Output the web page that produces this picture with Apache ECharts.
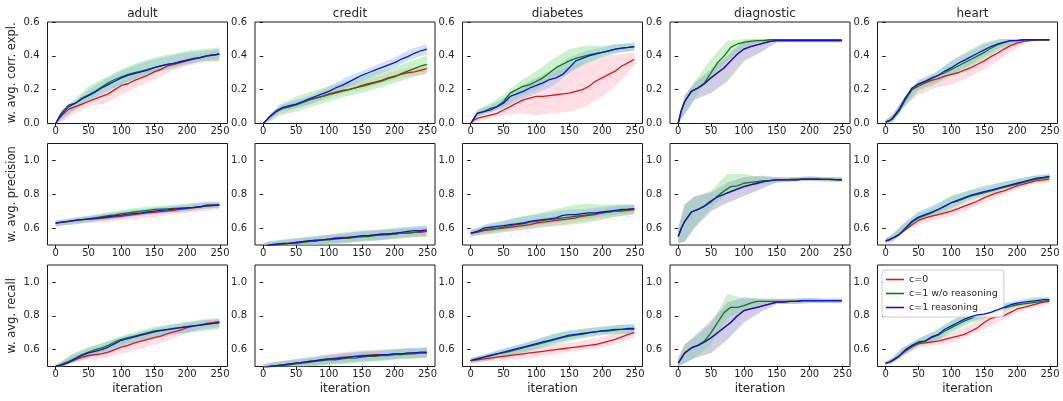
<!DOCTYPE html>
<html><head><meta charset="utf-8">
<script src="https://cdn.jsdelivr.net/npm/echarts@6/dist/echarts.min.js"></script>
<style>html,body{margin:0;padding:0;background:#fff}#c{width:1063px;height:401px}</style>
</head><body><div id="c"></div>
<script>
// iteration sample points for the mean curves and for the band edges
const X  = [0,5,10,20,30,40,50,60,70,80,90,100,110,120,130,140,150,160,170,180,190,200,210,220,230,240,249];
const BX = [0,10,25,50,75,100,125,150,175,200,225,249];
const datasets = ['adult','credit','diabetes','diagnostic','heart'];
const metricKeys = ['corr','prec','rec'];
const metricLabels = ['w. avg. corr. expl.','w. avg. precision','w. avg. recall'];
const seriesNames = ['c=0','c=1 w/o reasoning','c=1 reasoning'];
const xTicks = [0,50,100,150,200,250];
const yTicksTop = [0.0,0.2,0.4,0.6];
const yTicksLow = [0.6,0.8,1.0];

// ---------- row 1: corr. expl. ----------
const adult_corr_red   = [0,0.03,0.05,0.085,0.10,0.115,0.13,0.145,0.16,0.175,0.20,0.225,0.235,0.255,0.27,0.285,0.305,0.32,0.34,0.35,0.36,0.37,0.38,0.39,0.40,0.405,0.41];
const adult_corr_green = [0,0.04,0.07,0.11,0.12,0.15,0.17,0.19,0.215,0.24,0.26,0.275,0.29,0.30,0.31,0.32,0.33,0.34,0.35,0.355,0.365,0.375,0.38,0.39,0.40,0.405,0.41];
const adult_corr_blue  = [0,0.03,0.06,0.10,0.12,0.145,0.165,0.185,0.21,0.23,0.25,0.27,0.285,0.295,0.305,0.315,0.33,0.34,0.35,0.355,0.365,0.375,0.385,0.39,0.40,0.405,0.41];
const adult_corr_red_lo   = [0,0.01,0.05,0.10,0.12,0.17,0.22,0.26,0.31,0.34,0.36,0.37];
const adult_corr_red_hi   = [0,0.05,0.10,0.15,0.19,0.25,0.29,0.33,0.36,0.39,0.41,0.43];
const adult_corr_green_lo = [0,0.03,0.07,0.13,0.19,0.23,0.27,0.30,0.32,0.35,0.37,0.37];
const adult_corr_green_hi = [0,0.07,0.13,0.22,0.27,0.32,0.36,0.39,0.41,0.43,0.44,0.45];
const adult_corr_blue_lo  = [0,0.02,0.07,0.13,0.18,0.23,0.27,0.30,0.33,0.35,0.37,0.38];
const adult_corr_blue_hi  = [0,0.06,0.12,0.20,0.26,0.31,0.35,0.38,0.40,0.42,0.43,0.44];

const credit_corr_red   = [0,0.02,0.04,0.07,0.09,0.10,0.11,0.125,0.14,0.15,0.16,0.175,0.185,0.195,0.20,0.21,0.225,0.235,0.245,0.255,0.27,0.28,0.29,0.30,0.305,0.315,0.325];
const credit_corr_green = [0,0.02,0.04,0.07,0.09,0.10,0.11,0.125,0.14,0.15,0.16,0.17,0.18,0.19,0.20,0.21,0.22,0.23,0.24,0.25,0.265,0.275,0.295,0.31,0.325,0.34,0.35];
const credit_corr_blue  = [0,0.02,0.04,0.075,0.095,0.105,0.115,0.13,0.145,0.16,0.175,0.19,0.21,0.225,0.245,0.265,0.285,0.30,0.315,0.33,0.345,0.36,0.38,0.395,0.415,0.43,0.44];
const credit_corr_red_lo   = [0,0.02,0.05,0.09,0.12,0.15,0.18,0.20,0.23,0.26,0.28,0.29];
const credit_corr_red_hi   = [0,0.05,0.10,0.13,0.16,0.20,0.23,0.25,0.28,0.31,0.33,0.35];
const credit_corr_green_lo = [0,0.01,0.05,0.07,0.10,0.13,0.16,0.18,0.21,0.24,0.27,0.30];
const credit_corr_green_hi = [0,0.05,0.11,0.16,0.19,0.22,0.25,0.28,0.31,0.33,0.37,0.40];
const credit_corr_blue_lo  = [0,0.02,0.07,0.09,0.12,0.16,0.21,0.25,0.29,0.33,0.38,0.41];
const credit_corr_blue_hi  = [0,0.05,0.11,0.14,0.17,0.22,0.27,0.31,0.35,0.39,0.44,0.47];

const diabetes_corr_red   = [0,0.02,0.03,0.04,0.05,0.06,0.08,0.10,0.12,0.14,0.15,0.16,0.16,0.165,0.17,0.175,0.18,0.19,0.20,0.22,0.25,0.27,0.29,0.31,0.34,0.36,0.38];
const diabetes_corr_green = [0,0.03,0.06,0.07,0.09,0.10,0.13,0.18,0.20,0.22,0.23,0.25,0.27,0.30,0.33,0.35,0.37,0.385,0.395,0.405,0.415,0.42,0.43,0.44,0.445,0.45,0.455];
const diabetes_corr_blue  = [0,0.03,0.06,0.07,0.08,0.10,0.12,0.16,0.175,0.19,0.21,0.225,0.24,0.26,0.27,0.29,0.33,0.37,0.385,0.40,0.41,0.42,0.43,0.44,0.445,0.45,0.455];
const diabetes_corr_red_lo   = [0,0.01,0.03,0.05,0.06,0.05,0.06,0.07,0.10,0.16,0.24,0.34];
const diabetes_corr_red_hi   = [0,0.04,0.07,0.12,0.20,0.26,0.30,0.34,0.37,0.40,0.41,0.42];
const diabetes_corr_green_lo = [0,0.04,0.06,0.10,0.16,0.20,0.26,0.30,0.35,0.39,0.42,0.43];
const diabetes_corr_green_hi = [0,0.08,0.11,0.17,0.25,0.31,0.38,0.44,0.46,0.46,0.47,0.48];
const diabetes_corr_blue_lo  = [0,0.04,0.06,0.09,0.14,0.18,0.22,0.30,0.36,0.40,0.42,0.43];
const diabetes_corr_blue_hi  = [0,0.08,0.10,0.15,0.22,0.27,0.32,0.39,0.43,0.45,0.47,0.47];

const diagnostic_corr_red   = [0,0.08,0.13,0.19,0.21,0.235,0.27,0.30,0.33,0.37,0.41,0.44,0.455,0.465,0.475,0.485,0.49,0.49,0.49,0.49,0.49,0.49,0.49,0.49,0.49,0.49,0.49];
const diagnostic_corr_green = [0,0.08,0.13,0.19,0.21,0.24,0.30,0.36,0.40,0.45,0.47,0.48,0.485,0.49,0.49,0.495,0.495,0.495,0.495,0.495,0.495,0.495,0.495,0.495,0.495,0.495,0.495];
const diagnostic_corr_blue  = [0,0.08,0.13,0.19,0.21,0.235,0.27,0.30,0.33,0.37,0.41,0.44,0.455,0.465,0.475,0.485,0.49,0.49,0.49,0.49,0.49,0.49,0.49,0.49,0.49,0.49,0.49];
const diagnostic_corr_red_lo   = [0,0.06,0.14,0.18,0.25,0.37,0.42,0.48,0.48,0.48,0.48,0.48];
const diagnostic_corr_red_hi   = [0,0.17,0.24,0.32,0.40,0.49,0.50,0.50,0.50,0.50,0.50,0.50];
const diagnostic_corr_green_lo = [0,0.05,0.15,0.28,0.37,0.45,0.48,0.485,0.485,0.485,0.485,0.485];
const diagnostic_corr_green_hi = [0,0.16,0.25,0.38,0.49,0.50,0.50,0.50,0.50,0.50,0.50,0.50];
const diagnostic_corr_blue_lo  = [0,0.06,0.14,0.18,0.25,0.37,0.42,0.48,0.48,0.48,0.48,0.48];
const diagnostic_corr_blue_hi  = [0,0.17,0.24,0.32,0.40,0.49,0.50,0.50,0.50,0.50,0.50,0.50];

const heart_corr_red   = [0.01,0.015,0.03,0.08,0.15,0.20,0.22,0.24,0.255,0.265,0.28,0.29,0.30,0.315,0.33,0.35,0.37,0.395,0.415,0.44,0.46,0.475,0.485,0.49,0.495,0.495,0.495];
const heart_corr_green = [0.01,0.015,0.025,0.07,0.14,0.20,0.23,0.245,0.265,0.285,0.30,0.32,0.34,0.36,0.38,0.40,0.42,0.445,0.465,0.48,0.49,0.49,0.495,0.495,0.495,0.495,0.495];
const heart_corr_blue  = [0.01,0.015,0.03,0.08,0.15,0.21,0.235,0.25,0.27,0.285,0.31,0.33,0.355,0.375,0.395,0.415,0.435,0.455,0.47,0.48,0.49,0.49,0.495,0.495,0.495,0.495,0.495];
const heart_corr_red_lo   = [0,0.01,0.09,0.17,0.21,0.23,0.27,0.32,0.38,0.45,0.49,0.49];
const heart_corr_red_hi   = [0.02,0.05,0.13,0.24,0.27,0.32,0.36,0.42,0.47,0.50,0.50,0.50];
const heart_corr_green_lo = [0,0.0,0.08,0.19,0.23,0.28,0.32,0.38,0.44,0.48,0.49,0.49];
const heart_corr_green_hi = [0.02,0.05,0.13,0.25,0.30,0.37,0.43,0.48,0.50,0.50,0.50,0.50];
const heart_corr_blue_lo  = [0,0.01,0.09,0.20,0.24,0.29,0.34,0.40,0.45,0.48,0.49,0.49];
const heart_corr_blue_hi  = [0.02,0.05,0.14,0.26,0.30,0.37,0.42,0.47,0.50,0.50,0.50,0.50];

// ---------- row 2: precision ----------
const adult_prec_red   = [0.63,0.632,0.635,0.64,0.645,0.65,0.652,0.655,0.658,0.662,0.666,0.67,0.675,0.68,0.685,0.69,0.693,0.697,0.70,0.705,0.71,0.715,0.72,0.725,0.73,0.733,0.737];
const adult_prec_green = [0.63,0.632,0.635,0.64,0.645,0.65,0.655,0.66,0.667,0.673,0.678,0.685,0.69,0.695,0.70,0.705,0.71,0.712,0.714,0.716,0.718,0.72,0.723,0.727,0.732,0.735,0.737];
const adult_prec_blue  = [0.63,0.632,0.635,0.64,0.645,0.65,0.655,0.658,0.662,0.667,0.672,0.677,0.682,0.686,0.69,0.695,0.70,0.705,0.708,0.712,0.716,0.72,0.722,0.726,0.735,0.735,0.737];
const adult_prec_red_lo   = [0.61,0.615,0.62,0.63,0.635,0.645,0.655,0.665,0.68,0.69,0.70,0.71];
const adult_prec_red_hi   = [0.645,0.65,0.66,0.67,0.68,0.69,0.70,0.71,0.72,0.73,0.745,0.75];
const adult_prec_green_lo = [0.61,0.615,0.62,0.635,0.65,0.665,0.675,0.685,0.695,0.70,0.715,0.72];
const adult_prec_green_hi = [0.645,0.65,0.66,0.675,0.69,0.705,0.72,0.73,0.735,0.745,0.75,0.755];
const adult_prec_blue_lo  = [0.61,0.615,0.625,0.635,0.645,0.655,0.67,0.68,0.69,0.70,0.715,0.72];
const adult_prec_blue_hi  = [0.645,0.65,0.655,0.67,0.685,0.70,0.71,0.72,0.73,0.74,0.755,0.755];

const credit_prec_red   = [0.49,0.495,0.50,0.505,0.505,0.51,0.515,0.52,0.525,0.53,0.53,0.535,0.54,0.545,0.545,0.55,0.55,0.555,0.56,0.56,0.565,0.565,0.57,0.57,0.575,0.575,0.58];
const credit_prec_green = [0.49,0.495,0.50,0.50,0.505,0.51,0.51,0.515,0.52,0.525,0.53,0.53,0.535,0.54,0.54,0.545,0.55,0.55,0.555,0.56,0.56,0.565,0.57,0.57,0.575,0.58,0.58];
const credit_prec_blue  = [0.49,0.495,0.50,0.505,0.51,0.51,0.515,0.52,0.525,0.525,0.53,0.535,0.54,0.54,0.545,0.55,0.555,0.555,0.56,0.565,0.565,0.57,0.575,0.58,0.585,0.585,0.59];
const credit_prec_red_lo   = [0.47,0.48,0.485,0.49,0.50,0.505,0.515,0.52,0.53,0.535,0.545,0.55];
const credit_prec_red_hi   = [0.51,0.52,0.525,0.535,0.545,0.56,0.57,0.58,0.59,0.595,0.60,0.61];
const credit_prec_green_lo = [0.47,0.475,0.48,0.485,0.495,0.50,0.51,0.52,0.525,0.535,0.545,0.55];
const credit_prec_green_hi = [0.51,0.52,0.53,0.54,0.55,0.56,0.57,0.58,0.585,0.595,0.60,0.61];
const credit_prec_blue_lo  = [0.47,0.48,0.485,0.49,0.50,0.51,0.515,0.525,0.53,0.54,0.55,0.555];
const credit_prec_blue_hi  = [0.51,0.52,0.53,0.54,0.55,0.56,0.575,0.585,0.59,0.60,0.61,0.615];

const diabetes_prec_red   = [0.57,0.572,0.575,0.585,0.59,0.595,0.60,0.605,0.61,0.615,0.62,0.63,0.635,0.64,0.645,0.65,0.655,0.66,0.67,0.675,0.68,0.69,0.695,0.70,0.70,0.705,0.71];
const diabetes_prec_green = [0.57,0.575,0.58,0.59,0.595,0.60,0.605,0.615,0.62,0.625,0.635,0.64,0.645,0.65,0.655,0.66,0.665,0.67,0.675,0.68,0.685,0.69,0.695,0.70,0.705,0.71,0.71];
const diabetes_prec_blue  = [0.57,0.575,0.58,0.60,0.605,0.61,0.615,0.62,0.625,0.63,0.64,0.645,0.65,0.655,0.66,0.675,0.68,0.68,0.685,0.69,0.69,0.695,0.70,0.705,0.71,0.712,0.715];
const diabetes_prec_red_lo   = [0.55,0.555,0.56,0.575,0.59,0.60,0.615,0.625,0.64,0.655,0.67,0.68];
const diabetes_prec_red_hi   = [0.59,0.595,0.61,0.625,0.64,0.655,0.67,0.685,0.70,0.715,0.73,0.735];
const diabetes_prec_green_lo = [0.55,0.56,0.565,0.575,0.585,0.60,0.61,0.62,0.63,0.65,0.67,0.68];
const diabetes_prec_green_hi = [0.59,0.60,0.62,0.64,0.665,0.685,0.71,0.73,0.745,0.74,0.74,0.74];
const diabetes_prec_blue_lo  = [0.55,0.56,0.57,0.585,0.60,0.615,0.63,0.645,0.655,0.67,0.68,0.69];
const diabetes_prec_blue_hi  = [0.59,0.60,0.625,0.645,0.665,0.68,0.695,0.71,0.715,0.725,0.735,0.74];

const diagnostic_prec_red   = [0.55,0.60,0.64,0.695,0.71,0.73,0.76,0.785,0.80,0.815,0.83,0.845,0.855,0.865,0.875,0.88,0.885,0.885,0.885,0.885,0.89,0.89,0.89,0.888,0.888,0.887,0.885];
const diagnostic_prec_green = [0.55,0.60,0.64,0.695,0.71,0.73,0.755,0.79,0.82,0.845,0.85,0.865,0.87,0.875,0.88,0.882,0.885,0.887,0.888,0.89,0.89,0.89,0.89,0.888,0.888,0.887,0.885];
const diagnostic_prec_blue  = [0.55,0.60,0.64,0.695,0.71,0.73,0.76,0.785,0.80,0.815,0.83,0.845,0.855,0.865,0.875,0.88,0.885,0.885,0.885,0.885,0.89,0.89,0.89,0.888,0.888,0.887,0.885];
const diagnostic_prec_red_lo   = [0.51,0.52,0.60,0.70,0.75,0.79,0.83,0.87,0.875,0.88,0.875,0.875];
const diagnostic_prec_red_hi   = [0.60,0.74,0.79,0.81,0.87,0.90,0.91,0.90,0.90,0.905,0.90,0.90];
const diagnostic_prec_green_lo = [0.51,0.52,0.61,0.72,0.80,0.84,0.86,0.87,0.875,0.88,0.875,0.875];
const diagnostic_prec_green_hi = [0.60,0.74,0.78,0.82,0.92,0.92,0.90,0.90,0.90,0.905,0.90,0.90];
const diagnostic_prec_blue_lo  = [0.51,0.52,0.60,0.70,0.75,0.79,0.83,0.87,0.875,0.88,0.875,0.875];
const diagnostic_prec_blue_hi  = [0.60,0.74,0.79,0.81,0.87,0.90,0.91,0.90,0.90,0.905,0.90,0.90];

const heart_prec_red   = [0.525,0.53,0.54,0.56,0.59,0.62,0.645,0.66,0.67,0.68,0.69,0.70,0.715,0.73,0.745,0.76,0.78,0.795,0.81,0.82,0.835,0.85,0.86,0.87,0.88,0.885,0.89];
const heart_prec_green = [0.525,0.53,0.54,0.56,0.595,0.635,0.66,0.675,0.69,0.71,0.73,0.75,0.76,0.775,0.79,0.80,0.81,0.82,0.83,0.84,0.85,0.86,0.87,0.88,0.89,0.895,0.90];
const heart_prec_blue  = [0.525,0.53,0.54,0.56,0.60,0.64,0.665,0.68,0.695,0.71,0.73,0.75,0.765,0.78,0.795,0.805,0.815,0.825,0.835,0.845,0.855,0.865,0.875,0.885,0.895,0.90,0.905];
const heart_prec_red_lo   = [0.51,0.52,0.57,0.62,0.65,0.67,0.71,0.75,0.79,0.83,0.86,0.87];
const heart_prec_red_hi   = [0.54,0.56,0.61,0.67,0.70,0.73,0.77,0.81,0.85,0.87,0.90,0.91];
const heart_prec_green_lo = [0.51,0.52,0.57,0.64,0.67,0.71,0.76,0.79,0.82,0.85,0.87,0.88];
const heart_prec_green_hi = [0.54,0.56,0.62,0.69,0.73,0.79,0.82,0.84,0.87,0.89,0.91,0.92];
const heart_prec_blue_lo  = [0.51,0.52,0.57,0.64,0.68,0.72,0.77,0.80,0.83,0.86,0.88,0.89];
const heart_prec_blue_hi  = [0.54,0.56,0.62,0.70,0.74,0.79,0.82,0.85,0.87,0.89,0.91,0.92];

// ---------- row 3: recall ----------
const adult_rec_red   = [0.50,0.505,0.51,0.525,0.54,0.555,0.565,0.57,0.575,0.585,0.60,0.615,0.625,0.64,0.65,0.66,0.67,0.68,0.695,0.705,0.715,0.73,0.74,0.745,0.755,0.76,0.765];
const adult_rec_green = [0.50,0.505,0.515,0.53,0.55,0.57,0.585,0.60,0.61,0.625,0.645,0.66,0.67,0.68,0.69,0.70,0.71,0.715,0.72,0.725,0.73,0.735,0.74,0.745,0.75,0.755,0.76];
const adult_rec_blue  = [0.50,0.505,0.51,0.525,0.545,0.565,0.58,0.59,0.60,0.615,0.635,0.655,0.665,0.675,0.685,0.695,0.705,0.712,0.718,0.724,0.73,0.735,0.74,0.745,0.75,0.755,0.76];
const adult_rec_red_lo   = [0.49,0.50,0.52,0.54,0.55,0.575,0.60,0.63,0.66,0.70,0.73,0.74];
const adult_rec_red_hi   = [0.51,0.53,0.56,0.585,0.61,0.645,0.68,0.70,0.73,0.75,0.77,0.78];
const adult_rec_green_lo = [0.49,0.50,0.52,0.555,0.59,0.625,0.655,0.675,0.69,0.70,0.71,0.72];
const adult_rec_green_hi = [0.51,0.535,0.575,0.615,0.645,0.68,0.71,0.735,0.75,0.765,0.78,0.785];
const adult_rec_blue_lo  = [0.49,0.50,0.52,0.55,0.58,0.61,0.645,0.665,0.685,0.70,0.72,0.73];
const adult_rec_blue_hi  = [0.51,0.53,0.57,0.61,0.64,0.675,0.70,0.725,0.745,0.76,0.775,0.78];

const credit_rec_red   = [0.49,0.495,0.50,0.505,0.51,0.515,0.52,0.525,0.53,0.535,0.54,0.545,0.55,0.555,0.555,0.56,0.565,0.565,0.57,0.57,0.57,0.575,0.575,0.575,0.58,0.58,0.58];
const credit_rec_green = [0.49,0.495,0.50,0.50,0.505,0.51,0.515,0.52,0.525,0.53,0.535,0.54,0.54,0.545,0.55,0.55,0.555,0.56,0.56,0.565,0.565,0.57,0.57,0.575,0.575,0.58,0.58];
const credit_rec_blue  = [0.49,0.495,0.50,0.505,0.51,0.515,0.52,0.525,0.53,0.535,0.54,0.545,0.545,0.55,0.555,0.56,0.56,0.565,0.565,0.57,0.57,0.575,0.575,0.58,0.58,0.585,0.585];
const credit_rec_red_lo   = [0.47,0.48,0.485,0.495,0.505,0.515,0.525,0.535,0.54,0.545,0.55,0.55];
const credit_rec_red_hi   = [0.51,0.52,0.53,0.545,0.56,0.575,0.585,0.595,0.60,0.605,0.61,0.61];
const credit_rec_green_lo = [0.47,0.475,0.48,0.49,0.50,0.51,0.515,0.525,0.53,0.54,0.545,0.55];
const credit_rec_green_hi = [0.51,0.52,0.53,0.54,0.55,0.565,0.575,0.585,0.59,0.60,0.605,0.61];
const credit_rec_blue_lo  = [0.47,0.48,0.485,0.495,0.505,0.515,0.52,0.53,0.535,0.545,0.55,0.555];
const credit_rec_blue_hi  = [0.51,0.52,0.53,0.545,0.555,0.57,0.58,0.59,0.595,0.60,0.61,0.615];

const diabetes_rec_red   = [0.535,0.537,0.54,0.545,0.55,0.555,0.56,0.565,0.57,0.575,0.58,0.585,0.59,0.595,0.60,0.605,0.61,0.615,0.62,0.625,0.63,0.64,0.65,0.66,0.675,0.69,0.70];
const diabetes_rec_green = [0.535,0.54,0.545,0.555,0.565,0.575,0.58,0.59,0.60,0.61,0.62,0.63,0.64,0.65,0.66,0.67,0.68,0.685,0.69,0.70,0.705,0.71,0.71,0.715,0.72,0.72,0.72];
const diabetes_rec_blue  = [0.535,0.54,0.545,0.555,0.565,0.575,0.585,0.595,0.605,0.615,0.625,0.635,0.645,0.655,0.665,0.675,0.685,0.69,0.695,0.70,0.705,0.71,0.715,0.72,0.72,0.725,0.725];
const diabetes_rec_red_lo   = [0.52,0.525,0.53,0.535,0.545,0.555,0.57,0.585,0.60,0.61,0.64,0.67];
const diabetes_rec_red_hi   = [0.55,0.555,0.56,0.575,0.60,0.615,0.63,0.64,0.655,0.675,0.70,0.72];
const diabetes_rec_green_lo = [0.52,0.525,0.535,0.555,0.575,0.60,0.625,0.65,0.67,0.685,0.69,0.695];
const diabetes_rec_green_hi = [0.55,0.56,0.575,0.605,0.63,0.66,0.69,0.71,0.725,0.735,0.745,0.75];
const diabetes_rec_blue_lo  = [0.52,0.525,0.535,0.56,0.58,0.605,0.635,0.66,0.675,0.69,0.695,0.70];
const diabetes_rec_blue_hi  = [0.55,0.56,0.575,0.605,0.63,0.66,0.69,0.715,0.725,0.735,0.745,0.75];

const diagnostic_rec_red   = [0.52,0.55,0.58,0.61,0.625,0.645,0.67,0.70,0.73,0.76,0.80,0.83,0.84,0.85,0.86,0.87,0.88,0.88,0.885,0.885,0.89,0.89,0.89,0.89,0.89,0.89,0.89];
const diagnostic_rec_green = [0.52,0.55,0.58,0.61,0.625,0.65,0.70,0.76,0.82,0.85,0.85,0.86,0.875,0.885,0.885,0.885,0.885,0.885,0.885,0.885,0.89,0.89,0.89,0.89,0.89,0.89,0.89];
const diagnostic_rec_blue  = [0.52,0.55,0.58,0.61,0.625,0.645,0.67,0.70,0.73,0.76,0.80,0.83,0.84,0.85,0.86,0.87,0.88,0.88,0.885,0.885,0.89,0.89,0.89,0.89,0.89,0.89,0.89];
const diagnostic_rec_red_lo   = [0.50,0.52,0.55,0.58,0.66,0.76,0.82,0.87,0.87,0.875,0.875,0.875];
const diagnostic_rec_red_hi   = [0.55,0.63,0.68,0.77,0.88,0.91,0.90,0.90,0.90,0.905,0.90,0.90];
const diagnostic_rec_green_lo = [0.50,0.52,0.55,0.63,0.79,0.83,0.86,0.87,0.87,0.875,0.875,0.875];
const diagnostic_rec_green_hi = [0.55,0.63,0.67,0.75,0.93,0.90,0.90,0.90,0.90,0.905,0.90,0.90];
const diagnostic_rec_blue_lo  = [0.50,0.52,0.55,0.58,0.66,0.76,0.82,0.87,0.87,0.875,0.875,0.875];
const diagnostic_rec_blue_hi  = [0.55,0.63,0.68,0.77,0.88,0.91,0.90,0.90,0.90,0.905,0.90,0.90];

const heart_rec_red   = [0.52,0.525,0.535,0.56,0.59,0.615,0.635,0.64,0.645,0.65,0.66,0.67,0.68,0.69,0.71,0.73,0.76,0.785,0.795,0.80,0.82,0.84,0.85,0.86,0.87,0.88,0.885];
const heart_rec_green = [0.52,0.525,0.535,0.56,0.595,0.62,0.64,0.65,0.67,0.685,0.71,0.73,0.75,0.77,0.785,0.80,0.81,0.82,0.835,0.845,0.855,0.865,0.87,0.875,0.88,0.885,0.89];
const heart_rec_blue  = [0.52,0.525,0.535,0.56,0.60,0.625,0.645,0.65,0.675,0.69,0.72,0.74,0.76,0.78,0.795,0.805,0.81,0.82,0.835,0.85,0.865,0.875,0.88,0.885,0.89,0.895,0.895];
const heart_rec_red_lo   = [0.51,0.52,0.56,0.61,0.625,0.64,0.68,0.72,0.77,0.82,0.85,0.87];
const heart_rec_red_hi   = [0.53,0.55,0.60,0.655,0.67,0.70,0.74,0.79,0.83,0.86,0.89,0.90];
const heart_rec_green_lo = [0.51,0.52,0.56,0.62,0.64,0.70,0.75,0.78,0.82,0.85,0.87,0.88];
const heart_rec_green_hi = [0.53,0.55,0.61,0.665,0.71,0.77,0.82,0.84,0.87,0.88,0.90,0.91];
const heart_rec_blue_lo  = [0.51,0.52,0.56,0.625,0.65,0.71,0.76,0.79,0.83,0.86,0.88,0.88];
const heart_rec_blue_hi  = [0.53,0.55,0.61,0.665,0.71,0.77,0.82,0.84,0.87,0.89,0.91,0.91];

// ---------- assemble ----------
const DATA = {
  adult_corr:[adult_corr_red,adult_corr_green,adult_corr_blue],
  credit_corr:[credit_corr_red,credit_corr_green,credit_corr_blue],
  diabetes_corr:[diabetes_corr_red,diabetes_corr_green,diabetes_corr_blue],
  diagnostic_corr:[diagnostic_corr_red,diagnostic_corr_green,diagnostic_corr_blue],
  heart_corr:[heart_corr_red,heart_corr_green,heart_corr_blue],
  adult_prec:[adult_prec_red,adult_prec_green,adult_prec_blue],
  credit_prec:[credit_prec_red,credit_prec_green,credit_prec_blue],
  diabetes_prec:[diabetes_prec_red,diabetes_prec_green,diabetes_prec_blue],
  diagnostic_prec:[diagnostic_prec_red,diagnostic_prec_green,diagnostic_prec_blue],
  heart_prec:[heart_prec_red,heart_prec_green,heart_prec_blue],
  adult_rec:[adult_rec_red,adult_rec_green,adult_rec_blue],
  credit_rec:[credit_rec_red,credit_rec_green,credit_rec_blue],
  diabetes_rec:[diabetes_rec_red,diabetes_rec_green,diabetes_rec_blue],
  diagnostic_rec:[diagnostic_rec_red,diagnostic_rec_green,diagnostic_rec_blue],
  heart_rec:[heart_rec_red,heart_rec_green,heart_rec_blue]
};
const BANDS = {
  adult_corr:[[adult_corr_red_lo,adult_corr_red_hi],[adult_corr_green_lo,adult_corr_green_hi],[adult_corr_blue_lo,adult_corr_blue_hi]],
  credit_corr:[[credit_corr_red_lo,credit_corr_red_hi],[credit_corr_green_lo,credit_corr_green_hi],[credit_corr_blue_lo,credit_corr_blue_hi]],
  diabetes_corr:[[diabetes_corr_red_lo,diabetes_corr_red_hi],[diabetes_corr_green_lo,diabetes_corr_green_hi],[diabetes_corr_blue_lo,diabetes_corr_blue_hi]],
  diagnostic_corr:[[diagnostic_corr_red_lo,diagnostic_corr_red_hi],[diagnostic_corr_green_lo,diagnostic_corr_green_hi],[diagnostic_corr_blue_lo,diagnostic_corr_blue_hi]],
  heart_corr:[[heart_corr_red_lo,heart_corr_red_hi],[heart_corr_green_lo,heart_corr_green_hi],[heart_corr_blue_lo,heart_corr_blue_hi]],
  adult_prec:[[adult_prec_red_lo,adult_prec_red_hi],[adult_prec_green_lo,adult_prec_green_hi],[adult_prec_blue_lo,adult_prec_blue_hi]],
  credit_prec:[[credit_prec_red_lo,credit_prec_red_hi],[credit_prec_green_lo,credit_prec_green_hi],[credit_prec_blue_lo,credit_prec_blue_hi]],
  diabetes_prec:[[diabetes_prec_red_lo,diabetes_prec_red_hi],[diabetes_prec_green_lo,diabetes_prec_green_hi],[diabetes_prec_blue_lo,diabetes_prec_blue_hi]],
  diagnostic_prec:[[diagnostic_prec_red_lo,diagnostic_prec_red_hi],[diagnostic_prec_green_lo,diagnostic_prec_green_hi],[diagnostic_prec_blue_lo,diagnostic_prec_blue_hi]],
  heart_prec:[[heart_prec_red_lo,heart_prec_red_hi],[heart_prec_green_lo,heart_prec_green_hi],[heart_prec_blue_lo,heart_prec_blue_hi]],
  adult_rec:[[adult_rec_red_lo,adult_rec_red_hi],[adult_rec_green_lo,adult_rec_green_hi],[adult_rec_blue_lo,adult_rec_blue_hi]],
  credit_rec:[[credit_rec_red_lo,credit_rec_red_hi],[credit_rec_green_lo,credit_rec_green_hi],[credit_rec_blue_lo,credit_rec_blue_hi]],
  diabetes_rec:[[diabetes_rec_red_lo,diabetes_rec_red_hi],[diabetes_rec_green_lo,diabetes_rec_green_hi],[diabetes_rec_blue_lo,diabetes_rec_blue_hi]],
  diagnostic_rec:[[diagnostic_rec_red_lo,diagnostic_rec_red_hi],[diagnostic_rec_green_lo,diagnostic_rec_green_hi],[diagnostic_rec_blue_lo,diagnostic_rec_blue_hi]],
  heart_rec:[[heart_rec_red_lo,heart_rec_red_hi],[heart_rec_green_lo,heart_rec_green_hi],[heart_rec_blue_lo,heart_rec_blue_hi]]
};

const lineColors = ['#e8110f','#0a7d0a','#1111dd'];
const bandColors = ['rgba(255,160,180,0.34)','rgba(120,220,120,0.38)','rgba(130,180,225,0.38)'];
const FONT = 'DejaVu Sans';
const TXT = '#262626';
const lefts = [47.5, 255, 462.5, 670, 877.5];
const tops = [22, 143.5, 265];
const W = 180, H = 101.5;

function bandSeries(gi, lo, hi, color) {
  // one polygon per band: upper edge left->right, lower edge right->left
  return {
    type: 'custom', xAxisIndex: gi, yAxisIndex: gi, silent: true, z: 1, animation: false,
    data: BX.map((x, i) => [x, lo[i], hi[i]]),
    encode: {x: 0, y: [1, 2]},
    renderItem: function (params, api) {
      if (params.dataIndex !== 0) return null;
      const pts = [];
      for (let i = 0; i < BX.length; i++) pts.push(api.coord([BX[i], hi[i]]));
      for (let i = BX.length - 1; i >= 0; i--) pts.push(api.coord([BX[i], lo[i]]));
      const cs = params.coordSys;
      return {
        type: 'polygon', shape: {points: pts}, style: {fill: color, stroke: null},
        clipPath: {type: 'rect', shape: {x: cs.x, y: cs.y, width: cs.width, height: cs.height}}
      };
    }
  };
}

const grids = [], xAxes = [], yAxes = [], series = [], titles = [];
let gi = 0;
for (let r = 0; r < 3; r++) {
  for (let c = 0; c < 5; c++) {
    const key = datasets[c] + '_' + metricKeys[r];
    grids.push({left: lefts[c], top: tops[r], width: W, height: H, show: true,
      borderColor: '#1a1a1a', borderWidth: 1, backgroundColor: 'transparent', containLabel: false});
    xAxes.push({type: 'value', gridIndex: gi, min: -12.45, max: 261.45,
      axisLine: {show: false},
      axisTick: {show: true, length: 3.5, lineStyle: {color: '#1a1a1a', width: 1}, customValues: xTicks},
      axisLabel: {show: true, color: TXT, fontFamily: FONT, fontSize: 10, margin: 3, customValues: xTicks,
        formatter: v => String(v)},
      splitLine: {show: false},
      name: r === 2 ? 'iteration' : '', nameLocation: 'middle', nameGap: 16,
      nameTextStyle: {color: TXT, fontFamily: FONT, fontSize: 12}
    });
    const yt = r === 0 ? yTicksTop : yTicksLow;
    yAxes.push({type: 'value', gridIndex: gi, min: r === 0 ? 0 : 0.5, max: r === 0 ? 0.6 : 1.1,
      axisLine: {show: false},
      axisTick: {show: true, length: 3.5, lineStyle: {color: '#1a1a1a', width: 1}, customValues: yt},
      axisLabel: {show: true, color: TXT, fontFamily: FONT, fontSize: 10, margin: 8, customValues: yt,
        formatter: v => v.toFixed(1)},
      splitLine: {show: false},
      name: c === 0 ? metricLabels[r] : '', nameLocation: 'middle', nameGap: 29,
      nameTextStyle: {color: TXT, fontFamily: FONT, fontSize: 11.5}
    });
    if (r === 0) {
      titles.push({text: datasets[c], left: lefts[c] + W / 2, top: 3, textAlign: 'center',
        textStyle: {color: TXT, fontFamily: FONT, fontSize: 12, fontWeight: 'normal'}});
    }
    for (let k = 0; k < 3; k++) {
      series.push(bandSeries(gi, BANDS[key][k][0], BANDS[key][k][1], bandColors[k]));
    }
    for (let k = 0; k < 3; k++) {
      const ys = DATA[key][k];
      series.push({type: 'line', name: seriesNames[k], xAxisIndex: gi, yAxisIndex: gi, symbol: 'none',
        lineStyle: {color: lineColors[k], width: 1.3}, itemStyle: {color: lineColors[k]},
        data: X.map((x, i) => [x, ys[i]]), z: 2 + k, animation: false});
    }
    gi++;
  }
}

const chart = echarts.init(document.getElementById('c'), null, {renderer: 'canvas'});
chart.setOption({
  animation: false,
  backgroundColor: '#fff',
  title: titles,
  grid: grids, xAxis: xAxes, yAxis: yAxes, series: series,
  legend: {data: seriesNames, orient: 'vertical', left: 882, top: 270, icon: 'rect',
    itemWidth: 18, itemHeight: 1.6, itemGap: 3, padding: [4, 6, 4, 4],
    backgroundColor: 'rgba(255,255,255,0.85)', borderColor: '#cccccc', borderWidth: 1, borderRadius: 3,
    textStyle: {color: TXT, fontFamily: FONT, fontSize: 9.5, lineHeight: 11}, selectedMode: false}
});
</script></body></html>
